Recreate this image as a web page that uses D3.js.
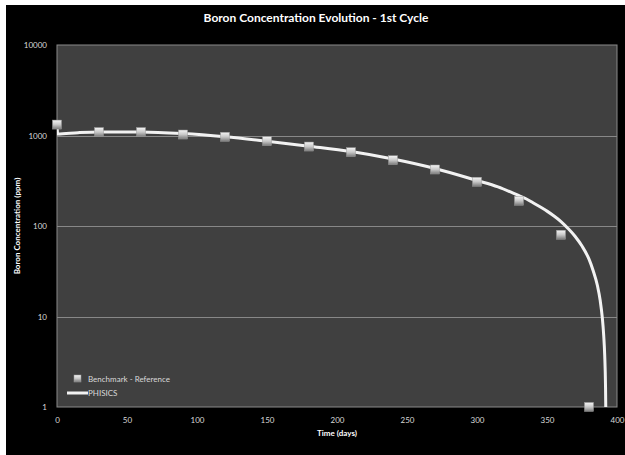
<!DOCTYPE html>
<html><head><meta charset="utf-8">
<script src="https://cdn.jsdelivr.net/npm/d3@7"></script>
<style>html,body{margin:0;padding:0;background:#fff;}svg{display:block;}</style>
</head><body>
<script>
const benchDays = [0,30,60,90,120,150,180,210,240,270,300,330,360,380];
const benchPpm  = [1320,1090,1090,1025,967,865,755,654,533,421,308,190,80,1];
const phisicsDays = [0,0.5,15,30,60,90,120,150,180,210,240,270,300,315,330,335,340,345,350,355,360,365,370,375,380,383,386,388,389.5,390.5,391.2,391.8,392.2];
const phisicsPpm  = [1320,1040,1075,1095,1095,1050,967,865,762,665,550,432,318,270,216,200,181,163,146,129,112,94,77,60,43,32,22,15,9.7,6.2,3.8,1.7,0.5];
const yTicks = [1,10,100,1000,10000];
const xTicks = [0,50,100,150,200,250,300,350,400];
const title = "Boron Concentration Evolution - 1st Cycle";
const xTitle = "Time (days)";
const yTitle = "Boron Concentration (ppm)";
const legendLabels = ["Benchmark - Reference","PHISICS"];

const W=625,H=455;
const svg=d3.select("body").append("svg").attr("width",W).attr("height",H);
svg.append("rect").attr("x",6).attr("y",5).attr("width",W-6).attr("height",H-5).attr("fill","#000");
const L=57,R=617,T=45,B=407;
const x=d3.scaleLinear().domain([0,400]).range([L,R]);
const y=d3.scaleLog().domain([1,10000]).range([B,T]);
const defs=svg.append("defs");
const grad=defs.append("linearGradient").attr("id","mg").attr("x1",0).attr("y1",0).attr("x2",0).attr("y2",1);
grad.append("stop").attr("offset","0%").attr("stop-color","#f4f4f4");
grad.append("stop").attr("offset","50%").attr("stop-color","#c8c8c8");
grad.append("stop").attr("offset","100%").attr("stop-color","#7a7a7a");
defs.append("clipPath").attr("id","pc").append("rect").attr("x",L).attr("y",T).attr("width",R-L).attr("height",B-T);

svg.append("rect").attr("x",L).attr("y",T).attr("width",R-L).attr("height",B-T).attr("fill","#404040").attr("stroke","#8a8a8a").attr("stroke-width",1);
svg.append("g").selectAll("line").data(yTicks.filter(d=>d>1&&d<10000)).join("line")
  .attr("x1",L).attr("x2",R).attr("y1",d=>Math.round(y(d))+0.5).attr("y2",d=>Math.round(y(d))+0.5)
  .attr("stroke","#888").attr("stroke-width",1);

const font="Lato, 'Open Sans', sans-serif";
const ya=svg.append("g").attr("transform",`translate(${L},0)`).call(d3.axisLeft(y).tickValues(yTicks).tickFormat(d3.format("d")).tickSize(0).tickPadding(10));
ya.select(".domain").remove();
ya.selectAll("text").attr("fill","#d9d9d9").style("font-family",font).style("font-size","8px");
const xa=svg.append("g").attr("transform",`translate(0,${B})`).call(d3.axisBottom(x).tickValues(xTicks).tickFormat(d3.format("d")).tickSize(0).tickPadding(10));
xa.select(".domain").remove();
xa.selectAll("text").attr("fill","#d9d9d9").style("font-family",font).style("font-size","8px");

const pts=phisicsDays.map((d,i)=>[d,phisicsPpm[i]]);
const line=d3.line().x(d=>x(d[0])).y(d=>y(Math.max(d[1],0.5))).curve(d3.curveMonotoneX);
svg.append("path").attr("clip-path","url(#pc)").attr("d",line(pts)).attr("fill","none").attr("stroke","#f2f2f2").attr("stroke-width",3);

const ms=9;
svg.append("g").selectAll("rect").data(benchDays.map((d,i)=>[d,benchPpm[i]])).join("rect")
  .attr("x",d=>x(d[0])-ms/2).attr("y",d=>y(d[1])-ms/2).attr("width",ms).attr("height",ms)
  .attr("fill","url(#mg)").attr("stroke","#9a9a9a").attr("stroke-width",0.5);

svg.append("text").attr("x",316).attr("y",22).attr("text-anchor","middle").attr("fill","#fff")
  .style("font-family",font).style("font-weight","bold").style("font-size","12px").text(title);
svg.append("text").attr("x",337).attr("y",436).attr("text-anchor","middle").attr("fill","#fff")
  .style("font-family",font).style("font-weight","bold").style("font-size","8px").text(xTitle);
svg.append("text").attr("transform",`translate(20,${(T+B)/2}) rotate(-90)`).attr("text-anchor","middle").attr("fill","#fff")
  .style("font-family",font).style("font-weight","bold").style("font-size","8px").text(yTitle);

svg.append("rect").attr("x",74).attr("y",375).attr("width",7).attr("height",7).attr("fill","url(#mg)").attr("stroke","#9a9a9a").attr("stroke-width",0.5);
svg.append("text").attr("x",88).attr("y",382).attr("fill","#d9d9d9").style("font-family",font).style("font-size","8px").text(legendLabels[0]);
svg.append("line").attr("x1",67).attr("x2",88).attr("y1",393).attr("y2",393).attr("stroke","#f2f2f2").attr("stroke-width",3);
svg.append("text").attr("x",88).attr("y",396).attr("fill","#d9d9d9").style("font-family",font).style("font-size","8px").text(legendLabels[1]);
</script>
</body></html>
